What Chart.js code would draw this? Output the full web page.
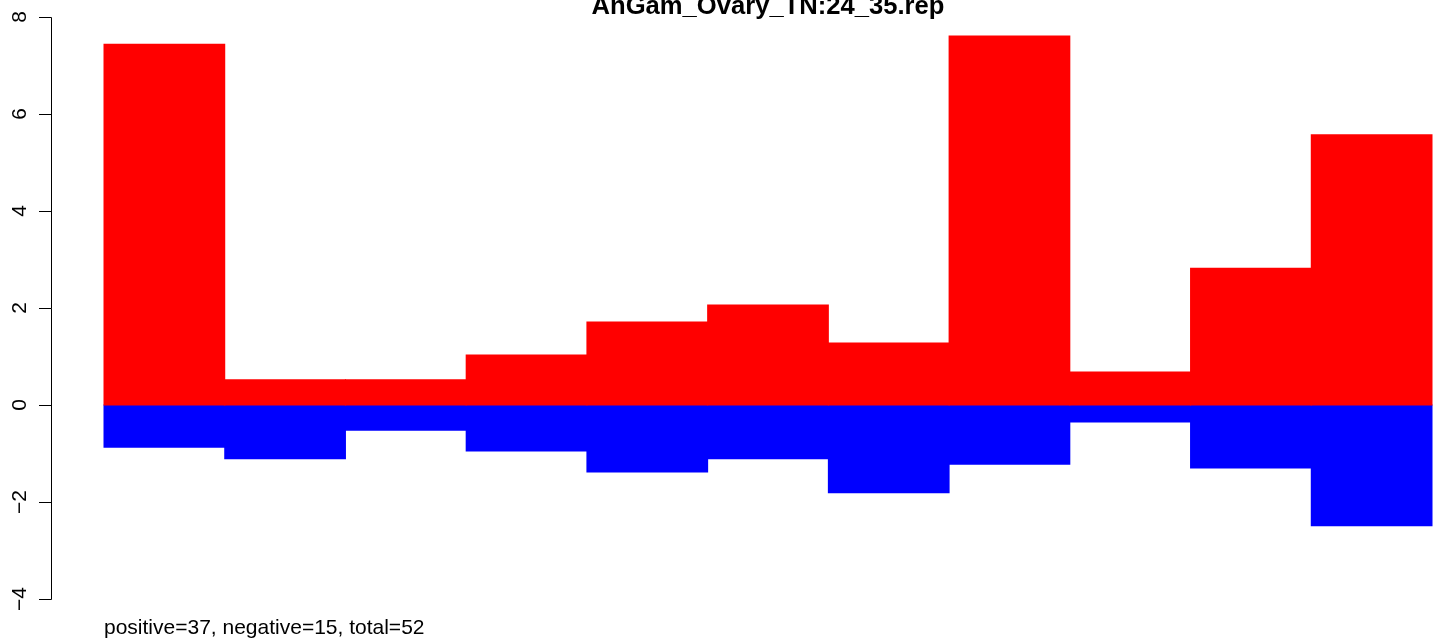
<!DOCTYPE html>
<html>
<head>
<meta charset="utf-8">
<script src="https://cdn.jsdelivr.net/npm/chart.js@4"></script>
<style>
  html, body { margin: 0; padding: 0; background: #fff; overflow: hidden; }
  canvas { display: block; }
</style>
</head>
<body>
<canvas id="chart" width="1441" height="639"></canvas>
<script>
'use strict';
const chartTitle = 'AnGam_Ovary_TN:24_35.rep';
const bins = [1, 2, 3, 4, 5, 6, 7, 8, 9, 10, 11];
const positiveValues = [7.44, 0.52, 0.52, 1.03, 1.71, 2.06, 1.28, 7.61, 0.68, 2.82, 5.57];
const negativeValues = [-0.87, -1.11, -0.52, -0.95, -1.38, -1.11, -1.81, -1.22, -0.35, -1.30, -2.49];
const yTicks = [-4, -2, 0, 2, 4, 6, 8];
const counts = { positive: 37, negative: 15, total: 52 };

const FONT = '"Liberation Sans", Arial, sans-serif';

// R-style left axis, title and footer drawn over the chart
const rDecor = {
    id: 'rDecor',
    afterDraw(chart) {
        const ctx = chart.ctx;
        const y = chart.scales.y;
        const axisX = chart.chartArea.left;
        const top = y.getPixelForValue(yTicks[yTicks.length - 1]);
        const bottom = y.getPixelForValue(yTicks[0]);
        ctx.save();
        ctx.strokeStyle = '#000';
        ctx.lineWidth = 1;
        ctx.beginPath();
        ctx.moveTo(axisX + 0.5, Math.round(top) + 0.5);
        ctx.lineTo(axisX + 0.5, Math.round(bottom) + 0.5);
        yTicks.forEach(v => {
            const py = Math.round(y.getPixelForValue(v)) + 0.5;
            ctx.moveTo(axisX + 0.5, py);
            ctx.lineTo(axisX - 12, py);
        });
        ctx.stroke();

        ctx.fillStyle = '#000';
        ctx.font = '21px ' + FONT;
        ctx.textAlign = 'center';
        ctx.textBaseline = 'alphabetic';
        yTicks.forEach(v => {
            const py = y.getPixelForValue(v);
            ctx.save();
            ctx.translate(26, py);
            ctx.rotate(-Math.PI / 2);
            ctx.fillText(String(v).replace('-', '\u2212'), 0, 0);
            ctx.restore();
        });

        ctx.font = 'bold 25.6px ' + FONT;
        ctx.textAlign = 'center';
        ctx.fillText(chartTitle, 768, 14);

        ctx.font = '21px ' + FONT;
        ctx.textAlign = 'left';
        const xs = chart.scales.x;
        ctx.fillText('positive=' + counts.positive + ', negative=' + counts.negative + ', total=' + counts.total,
            xs.getPixelForValue(0), 634);
        ctx.restore();
    }
};

new Chart(document.getElementById('chart'), {
    type: 'bar',
    data: {
        datasets: [
            {
                label: 'positive',
                data: bins.map((b, i) => ({ x: b - 0.5, y: positiveValues[i] })),
                backgroundColor: '#ff0000',
                borderWidth: 0,
                inflateAmount: 0.5,
                barPercentage: 1,
                categoryPercentage: 1
            },
            {
                label: 'negative',
                data: bins.map((b, i) => ({ x: b - 0.5, y: negativeValues[i] })),
                backgroundColor: '#0000ff',
                borderWidth: 0,
                inflateAmount: 0.5,
                barPercentage: 1,
                categoryPercentage: 1
            }
        ]
    },
    options: {
        responsive: false,
        devicePixelRatio: 1,
        animation: false,
        events: [],
        layout: { padding: { left: 51, right: 0, top: 0, bottom: 17 } },
        plugins: { legend: { display: false }, tooltip: { enabled: false }, title: { display: false } },
        scales: {
            x: { type: 'linear', stacked: true, display: false, offset: false, min: -0.439, max: 11.0745 },
            y: { stacked: true, display: false, min: -4.474, max: 8.3505 }
        }
    },
    plugins: [rDecor]
});
</script>
</body>
</html>
